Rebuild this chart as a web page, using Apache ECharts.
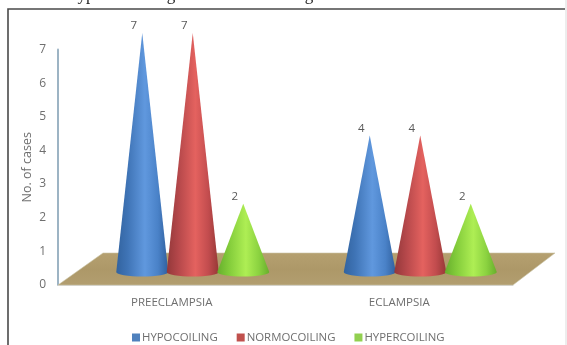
<!DOCTYPE html>
<html><head><meta charset="utf-8">
<style>html,body{margin:0;padding:0;background:#fff}#c{width:567px;height:345px}</style>
<script src="https://cdn.jsdelivr.net/npm/echarts@6/dist/echarts.min.js"></script>
</head><body><div id="c"></div>
<script>
const categories = ['PREECLAMPSIA', 'ECLAMPSIA'];
const seriesNames = ['HYPOCOILING', 'NORMOCOILING', 'HYPERCOILING'];
const hypocoiling = [7, 4];
const normocoiling = [7, 4];
const hypercoiling = [2, 2];
const yTicks = [0, 1, 2, 3, 4, 5, 6, 7];

const swatch = ['#4f81bd', '#c0504d', '#92d050'];
const shades = [
  ['#32639f', '#3f74b6', '#6098de', '#4a82c8', '#30609e'],
  ['#93383a', '#b4474a', '#e4625f', '#c24c4e', '#963836'],
  ['#66ae2c', '#82cb3a', '#aeee54', '#8bd240', '#68ae2c']
];
const FONT = '"Open Sans", "Noto Sans", sans-serif';
const TXT = '#6f6f6f';
const chart = echarts.init(document.getElementById('c'), null, {renderer: 'canvas'});

// depth of the pseudo-3D floor
const DX = 45, DY = 32;

function floorItem(params, api) {
  const c = params.coordSys;
  const b = c.y + c.height;
  return {
    type: 'polygon',
    silent: true,
    shape: {points: [[c.x, b], [c.x + DX, b - DY], [c.x + c.width + DX - 3, b - DY], [c.x + c.width, b]]},
    style: {
      fill: {type: 'linear', x: 0, y: 0, x2: 0, y2: 1, colorStops: [
        {offset: 0, color: '#b5a070'}, {offset: 0.5, color: '#ad9868'}, {offset: 1, color: '#b29e70'}
      ]},
      stroke: '#c9c4a6', lineWidth: 0.6
    }
  };
}

function coneItem(seriesIdx) {
  return function (params, api) {
    const catIdx = api.value(0), val = api.value(1);
    const base = api.coord([catIdx, 0]);
    const top = api.coord([catIdx, val]);
    const cx = base[0] + (seriesIdx - 1) * 50.5 + 21;
    const by = base[1];
    const ty = top[1];
    const hw = 26, ry = 4.5;
    const s = shades[seriesIdx];
    return {
      type: 'group',
      children: [{
        type: 'path',
        shape: {
          pathData: `M${cx - hw} ${by} L${cx} ${ty} L${cx + hw} ${by} A${hw} ${ry} 0 0 1 ${cx - hw} ${by} Z`
        },
        style: {
          fill: {type: 'linear', x: 0, y: 0, x2: 1, y2: 0, colorStops: [
            {offset: 0, color: s[0]}, {offset: 0.22, color: s[1]}, {offset: 0.55, color: s[2]},
            {offset: 0.8, color: s[3]}, {offset: 1, color: s[4]}
          ]}
        }
      }, {
        type: 'text',
        style: {
          text: String(val), x: cx - 8.5, y: ty - 7,
          font: '11.5px ' + FONT, fill: '#595959', align: 'center', verticalAlign: 'middle'
        }
      }]
    };
  };
}

const pair = (arr) => arr.map((v, i) => [i, v]);
const allValues = [hypocoiling, normocoiling, hypercoiling];
const clipped = [['yp', 86], ['g', 171], ['g', 309]];

chart.setOption({
  animation: false,
  backgroundColor: '#fff',
  graphic: [
    {type: 'rect', silent: true, z: -1, shape: {x: 8, y: 9, width: 620, height: 400},
     style: {fill: 'transparent', stroke: '#4a4a4a', lineWidth: 1.6}},
    {type: 'rect', silent: true, z: 10, shape: {x: 565, y: 0, width: 2, height: 345},
     style: {fill: '#ededed'}}
  ].concat(clipped.map(([t, x]) => ({
    type: 'text', silent: true, z: 10,
    style: {text: t, x, y: 4, font: '17px "Liberation Serif", serif', fill: '#222',
            align: 'center', verticalAlign: 'bottom'}
  }))),
  legend: {
    left: 127, top: 327, itemWidth: 8, itemHeight: 8, itemGap: 19,
    icon: 'rect', selectedMode: false,
    textStyle: {fontFamily: FONT, fontSize: 11.4, color: TXT, padding: [0, 0, 0, -3]},
    data: seriesNames
  },
  grid: [
    {left: 58, right: 54, top: 49.5, height: 235.5},
    {left: 58, right: 54, top: 33, height: 239}
  ],
  xAxis: [
    {type: 'category', gridIndex: 0, data: categories,
     axisTick: {show: false},
     axisLine: {show: true, lineStyle: {color: '#d9d9d9', width: 1}},
     axisLabel: {fontFamily: FONT, fontSize: 11.5, color: TXT, margin: 12}},
    {type: 'category', gridIndex: 1, data: categories, show: false}
  ],
  yAxis: [
    {type: 'value', gridIndex: 0, min: 0, max: 7, interval: 1,
     name: 'No. of cases', nameLocation: 'middle', nameGap: 24, nameMoveOverlap: false,
     nameTextStyle: {fontFamily: FONT, fontSize: 12.5, color: TXT},
     axisLine: {show: true, lineStyle: {color: '#9db4c4', width: 2}},
     axisTick: {show: false}, splitLine: {show: false},
     axisLabel: {fontFamily: FONT, fontSize: 12, color: TXT, margin: 12,
       formatter: (v) => yTicks.includes(v) ? String(v) : ''}},
    {type: 'value', gridIndex: 1, min: 0, max: 7, interval: 1, show: false}
  ],
  series: [
    {type: 'custom', name: 'floor', xAxisIndex: 0, yAxisIndex: 0, z: 1, silent: true,
     data: [[0, 0]], renderItem: floorItem, encode: {x: 0, y: 1}}
  ].concat(seriesNames.map((name, i) => ({
    type: 'custom', name, xAxisIndex: 1, yAxisIndex: 1, z: 2 + i,
    itemStyle: {color: swatch[i]},
    data: pair(allValues[i]),
    encode: {x: 0, y: 1},
    renderItem: coneItem(i)
  })))
});
</script></body></html>
